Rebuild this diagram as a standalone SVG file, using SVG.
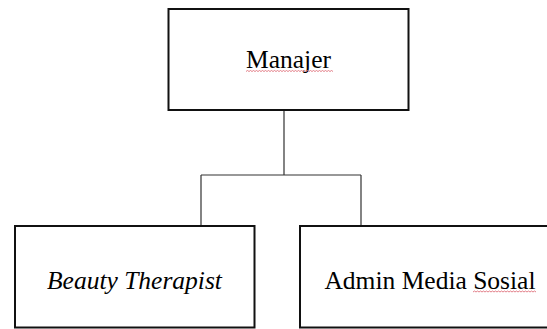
<svg xmlns="http://www.w3.org/2000/svg" width="547" height="329" viewBox="0 0 547 329">
<style>
.box{fill:#fff;stroke:#111;stroke-width:2}
.lbl{font-family:"Liberation Serif","Times New Roman",serif;font-size:25.5px;fill:#000;text-anchor:middle}
.it{font-style:italic}
.conn{fill:none;stroke:#333;stroke-width:1.2}
.sq{fill:none;stroke:#e0707c;stroke-width:0.9}
</style>
<rect width="547" height="329" fill="#fff"/>
<g id="connectors">
<path class="conn" d="M284 110 V175 M201 175 H361 M201 175 V226 M361 175 V226"/>
</g>
<g id="manajer">
<rect class="box" x="168.5" y="9" width="240" height="101"/>
<text class="lbl" x="288.5" y="68">Manajer</text>
<path class="sq" d="M246 71.5 l1.5 -1 l1.5 1 l1.5 -1 l1.5 1 l1.5 -1 l1.5 1 l1.5 -1 l1.5 1 l1.5 -1 l1.5 1 l1.5 -1 l1.5 1 l1.5 -1 l1.5 1 l1.5 -1 l1.5 1 l1.5 -1 l1.5 1 l1.5 -1 l1.5 1 l1.5 -1 l1.5 1 l1.5 -1 l1.5 1 l1.5 -1 l1.5 1 l1.5 -1 l1.5 1 l1.5 -1 l1.5 1 l1.5 -1 l1.5 1 l1.5 -1 l1.5 1 l1.5 -1 l1.5 1 l1.5 -1 l1.5 1 l1.5 -1 l1.5 1 l1.5 -1 l1.5 1 l1.5 -1 l1.5 1 l1.5 -1 l1.5 1 l1.5 -1 l1.5 1 l1.5 -1 l1.5 1 l1.5 -1 l1.5 1 l1.5 -1 l1.5 1 l1.5 -1 l1.5 1 l1.5 -1 l1.5 1"/>
</g>
<g id="beauty-therapist">
<rect class="box" x="15" y="226" width="239.5" height="101.5"/>
<text class="lbl it" x="134.5" y="288.5">Beauty Therapist</text>
</g>
<g id="admin-media-sosial">
<rect class="box" x="300" y="226" width="260" height="101.5"/>
<text class="lbl" x="430" y="288.5">Admin Media Sosial</text>
<path class="sq" d="M473 292 l1.5 -1 l1.5 1 l1.5 -1 l1.5 1 l1.5 -1 l1.5 1 l1.5 -1 l1.5 1 l1.5 -1 l1.5 1 l1.5 -1 l1.5 1 l1.5 -1 l1.5 1 l1.5 -1 l1.5 1 l1.5 -1 l1.5 1 l1.5 -1 l1.5 1 l1.5 -1 l1.5 1 l1.5 -1 l1.5 1 l1.5 -1 l1.5 1 l1.5 -1 l1.5 1 l1.5 -1 l1.5 1 l1.5 -1 l1.5 1 l1.5 -1 l1.5 1 l1.5 -1 l1.5 1 l1.5 -1 l1.5 1 l1.5 -1 l1.5 1 l1.5 -1 l1.5 1"/>
</g>
</svg>
